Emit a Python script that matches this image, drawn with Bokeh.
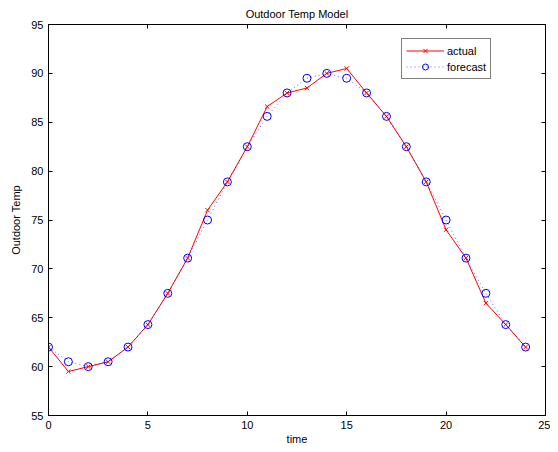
from bokeh.plotting import figure
from bokeh.models import LinearAxis, Range1d, FixedTicker, Legend, LegendItem, CustomJSTickFormatter
from bokeh.embed import file_html
from bokeh.resources import INLINE

time = list(range(25))
actual = [62.0, 59.5, 60.0, 60.5, 62.0, 64.3, 67.5, 71.1, 76.0, 78.9, 82.5, 86.6, 88.0,
          88.5, 90.0, 90.5, 88.0, 85.6, 82.5, 78.9, 74.0, 71.1, 66.5, 64.3, 62.0]
forecast = [62.0, 60.5, 60.0, 60.5, 62.0, 64.3, 67.5, 71.1, 75.0, 78.9, 82.5, 85.6, 88.0,
            89.5, 90.0, 89.5, 88.0, 85.6, 82.5, 78.9, 75.0, 71.1, 67.5, 64.3, 62.0]
x_ticks = [0, 5, 10, 15, 20, 25]
y_ticks = [55, 60, 65, 70, 75, 80, 85, 90, 95]

FONT = "Liberation Sans"

p = figure(width=550, height=447, output_backend="svg", toolbar_location=None,
           x_range=Range1d(0, 25), y_range=Range1d(55, 95),
           min_border_left=48, min_border_right=5, min_border_top=4, min_border_bottom=30,
           title="Outdoor Temp Model")
p.title.align = "center"
p.title.text_font = FONT
p.title.text_font_size = "11px"
p.title.text_font_style = "normal"
p.title.text_color = "black"
p.xgrid.visible = False
p.ygrid.visible = False
p.outline_line_color = "black"
p.outline_line_width = 1

for ax in p.xaxis + p.yaxis:
    ax.major_tick_in = 4
    ax.major_tick_out = 0
    ax.minor_tick_in = 0
    ax.minor_tick_out = 0
    ax.major_label_text_font = FONT
    ax.major_label_text_font_size = "11px"
    ax.major_label_text_color = "black"
    ax.axis_label_text_font = FONT
    ax.axis_label_text_font_size = "11px"
    ax.axis_label_text_font_style = "normal"
    ax.axis_label_text_color = "black"
    ax.axis_line_color = "black"
    ax.major_tick_line_color = "black"
p.xaxis.ticker = FixedTicker(ticks=x_ticks)
p.yaxis.ticker = FixedTicker(ticks=y_ticks)
p.xaxis.axis_label = "time"
p.yaxis.axis_label = "Outdoor Temp"
p.xaxis.major_label_standoff = 5
p.yaxis.major_label_standoff = 5
p.xaxis.axis_label_standoff = 1
p.yaxis.axis_label_standoff = 6

# mirrored ticks (box style)
blank = CustomJSTickFormatter(code="return ''")
rax = LinearAxis(ticker=FixedTicker(ticks=y_ticks), major_tick_in=4, major_tick_out=0,
                 minor_tick_in=0, minor_tick_out=0, formatter=blank,
                 major_label_standoff=0, axis_line_color="black", major_tick_line_color="black")
tax = LinearAxis(ticker=FixedTicker(ticks=x_ticks), major_tick_in=4, major_tick_out=0,
                 minor_tick_in=0, minor_tick_out=0, formatter=blank,
                 major_label_standoff=0, axis_line_color="black", major_tick_line_color="black")
p.add_layout(rax, "right")
p.add_layout(tax, "above")

l1 = p.line(time, actual, line_color="red", line_width=1)
s1 = p.scatter(time, actual, marker="x", size=6, line_color="red", line_width=1)
l2 = p.line(time, forecast, line_color="blue", line_width=1, line_dash="1 3", line_alpha=0.6)
s2 = p.scatter(time, forecast, marker="circle", size=8, line_color="blue", fill_color=None, line_width=1)

legend = Legend(items=[LegendItem(label="actual", renderers=[l1, s1]),
                       LegendItem(label="forecast", renderers=[l2, s2])],
                location=(353, 336))
legend.border_line_color = "black"
legend.border_line_width = 1
legend.label_text_font = FONT
legend.label_text_font_size = "11px"
legend.label_text_color = "black"
legend.glyph_width = 38
legend.glyph_height = 15
legend.label_height = 15
legend.label_standoff = 3
legend.spacing = 1
legend.padding = 4
legend.margin = 0
p.add_layout(legend, "center")

open("out.html", "w").write(file_html(p, INLINE))
